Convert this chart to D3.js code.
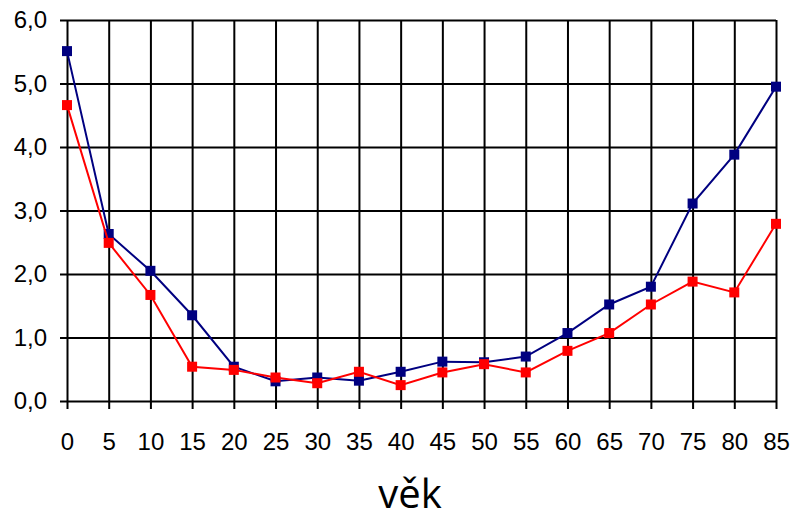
<!DOCTYPE html>
<html>
<head>
<meta charset="utf-8">
<script src="https://cdn.jsdelivr.net/npm/d3@7"></script>
<style>
	body { margin: 0; background: #fff; }
	svg text { font-family: "Liberation Sans", Arial, sans-serif; fill: #000; }
</style>
</head>
<body>
<div class="chart"></div>
<script>
var ages = [0, 5, 10, 15, 20, 25, 30, 35, 40, 45, 50, 55, 60, 65, 70, 75, 80, 85];
var blueValues = [5.51, 2.63, 2.05, 1.35, 0.54, 0.31, 0.37, 0.32, 0.46, 0.62, 0.61, 0.7, 1.07, 1.52, 1.8, 3.11, 3.88, 4.95];
var redValues = [4.66, 2.49, 1.67, 0.54, 0.49, 0.37, 0.28, 0.46, 0.25, 0.45, 0.58, 0.45, 0.79, 1.07, 1.52, 1.88, 1.71, 2.79];
var yTicks = [0, 1, 2, 3, 4, 5, 6];
var xTitle = "věk";

var w = 792,
	h = 521,
	plotLeft = 67,
	plotRight = 776,
	plotTop = 20,
	plotBottom = 401;

var svg = d3.select(".chart").append("svg").attr("width", w).attr("height", h);

var xScale = d3.scaleLinear().domain([0, 85]).range([plotLeft, plotRight]);
var yScale = d3.scaleLinear().domain([0, 6]).range([plotBottom, plotTop]);

// horizontal grid + left ticks
var yAxis = d3
	.axisLeft(yScale)
	.tickValues(yTicks)
	.tickSize(-(plotRight - plotLeft))
	.tickSizeOuter(0)
	.tickPadding(20)
	.tickFormat((d) => d3.format(".1f")(d).replace(".", ","));

var gy = svg
	.append("g")
	.attr("transform", "translate(" + plotLeft + ",0)")
	.call(yAxis);
gy.select(".domain").remove();
gy.selectAll("line").attr("x1", -7).attr("stroke", "#000").attr("stroke-width", 2);
gy.selectAll("text").style("font-size", "24px");

// vertical grid + bottom ticks
var xAxis = d3
	.axisBottom(xScale)
	.tickValues(ages)
	.tickSize(-(plotBottom - plotTop))
	.tickSizeOuter(0)
	.tickPadding(32)
	.tickFormat((d) => d);

var gx = svg
	.append("g")
	.attr("transform", "translate(0," + plotBottom + ")")
	.call(xAxis);
gx.select(".domain").remove();
gx.selectAll("line").attr("y1", 8).attr("stroke", "#000").attr("stroke-width", 2);
gx.selectAll("text").style("font-size", "24px");

var series = [
	{ values: blueValues, color: "#000080" },
	{ values: redValues, color: "#ff0000" }
];

var line = d3
	.line()
	.x((d, i) => xScale(ages[i]))
	.y((d) => yScale(d));

series.forEach(function (s) {
	svg
		.append("path")
		.datum(s.values)
		.attr("fill", "none")
		.attr("stroke", s.color)
		.attr("stroke-width", 2)
		.attr("d", line);

	svg
		.append("g")
		.selectAll("rect")
		.data(s.values)
		.enter()
		.append("rect")
		.attr("x", (d, i) => xScale(ages[i]) - 5)
		.attr("y", (d) => yScale(d) - 5)
		.attr("width", 10)
		.attr("height", 10)
		.attr("fill", s.color);
});

svg
	.append("text")
	.attr("x", 410)
	.attr("y", 508)
	.style("text-anchor", "middle")
	.style("font-family", "'Open Sans', sans-serif")
	.style("font-size", "40px")
	.text(xTitle);
</script>
</body>
</html>
